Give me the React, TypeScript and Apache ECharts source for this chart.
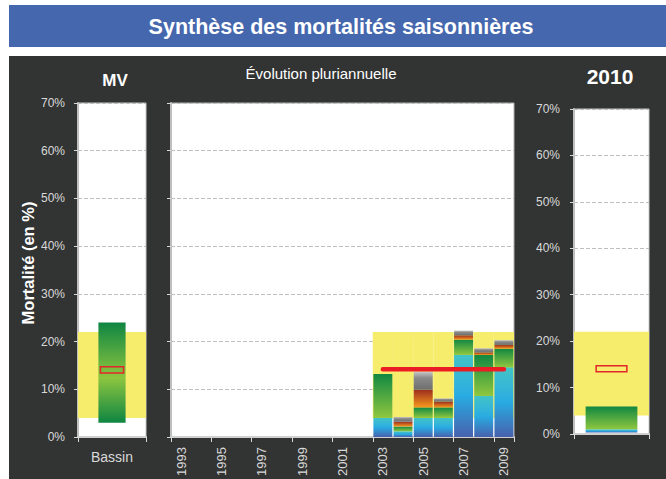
import React, { useEffect, useRef } from "react";
import * as echarts from "echarts";

// ---------- data ----------
const years = ["1993","1994","1995","1996","1997","1998","1999","2000","2001","2002","2003","2004","2005","2006","2007","2008","2009"];
const blueSeg   = [null,null,null,null,null,null,null,null,null,null, 4.0, 1.2, 4.0, 4.0, 17.2, 8.6, 14.6];
const greenSeg  = [null,null,null,null,null,null,null,null,null,null, 9.2, 1.0, 2.2, 2.2, 3.2, 8.6, 3.9];
const orangeSeg = [null,null,null,null,null,null,null,null,null,null, 0,   1.0, 3.7, 1.2, 0.9, 0.5, 0.8];
const graySeg   = [null,null,null,null,null,null,null,null,null,null, 0,   1.0, 3.8, 0.7, 1.0, 0.9, 1.0];
const meanLine  = [null,null,null,null,null,null,null,null,null,null, 14.2,14.2,14.2,14.2,14.2,14.2,14.2];
const bandYears = ["2003","2004","2005","2006","2007","2008","2009"];
const BAND_LOW = 4;
const BAND_HIGH = 22;

const mvCategories = ["Bassin"];
const mvBase = [3];
const mvRange = [21];
const mvMarker = [13.4, 14.7];

const y2010Categories = ["2010"];
const y2010Base = [0.3];
const y2010Blue = [0.7];
const y2010Green = [4.9];
const y2010Marker = [13.4, 14.7];

const yTicks = { min: 0, max: 70, interval: 10 };

// ---------- styles ----------
const FONT = "'Liberation Sans', Arial, sans-serif";
const YELLOW = "#F6ED6C";
const LABEL = "#D9D9D9";
const lg = (stops: [number, string][]) =>
  new echarts.graphic.LinearGradient(0, 0, 0, 1, stops.map(([offset, color]) => ({ offset, color })));
const blueGrad = () => lg([[0, "#42C3C6"], [0.3, "#35B6D8"], [0.5, "#29ABE2"], [1, "#4761AD"]]);
const greenGrad = () => lg([[0, "#118842"], [1, "#8FC73F"]]);
const orangeGrad = () => lg([[0, "#9C2F1F"], [1, "#F7961C"]]);
const grayGrad = () => lg([[0, "#C9C9C9"], [0.35, "#8A8A8A"], [1, "#6E6E6E"]]);
const mvGrad = () => lg([[0, "#0E8542"], [0.55, "#8DC63F"], [1, "#0E8542"]]);

function yAxisCfg(gridIndex: number, showLabel: boolean, margin: number) {
  return {
    type: "value",
    gridIndex,
    ...yTicks,
    axisLabel: { show: showLabel, color: LABEL, fontSize: 12, fontFamily: FONT, margin, formatter: "{value}%" },
    axisLine: { show: true, lineStyle: { color: "#BFBFBF", width: 2 } },
    axisTick: { show: true, length: 4, lineStyle: { color: LABEL } },
    splitLine: { show: true, lineStyle: { color: "#BFBFBF", type: "dashed", width: 1 } },
  };
}

function xAxisCfg(gridIndex: number, data: string[], label: any) {
  return {
    type: "category",
    gridIndex,
    data,
    axisLabel: label,
    axisLine: { show: true, lineStyle: { color: "#D0D0D0", width: 2 } },
    axisTick: { show: true, length: 5, lineStyle: { color: LABEL } },
    splitLine: { show: false },
  };
}

const fullBand = (params: any, api: any) => {
  const cs = params.coordSys;
  const top = api.coord([0, api.value(2)]);
  const bot = api.coord([0, api.value(1)]);
  return { type: "rect", shape: { x: cs.x, y: top[1], width: cs.width, height: bot[1] - top[1] }, style: { fill: YELLOW } };
};
const catBand = (params: any, api: any) => {
  const top = api.coord([api.value(0), api.value(2)]);
  const bot = api.coord([api.value(0), api.value(1)]);
  const w = api.size([1, 0])[0];
  return { type: "rect", shape: { x: top[0] - w / 2, y: top[1], width: w, height: bot[1] - top[1] }, style: { fill: YELLOW } };
};
const markerBox = (frac: number) => (params: any, api: any) => {
  const top = api.coord([api.value(0), api.value(2)]);
  const bot = api.coord([api.value(0), api.value(1)]);
  const w = api.size([1, 0])[0] * frac;
  return {
    type: "rect",
    shape: { x: top[0] - w / 2, y: top[1], width: w, height: bot[1] - top[1] },
    style: { fill: "none", stroke: "#E3262A", lineWidth: 1.5 },
  };
};

export default function App() {
  const ref = useRef<HTMLDivElement>(null);
  useEffect(() => {
    if (!ref.current) return;
    const chart = echarts.init(ref.current, undefined, { renderer: "svg" });
    const option: any = {
      animation: false,
      textStyle: { fontFamily: FONT },
      graphic: [
        { type: "rect", z: -100, shape: { x: 9, y: 5, width: 657, height: 42 }, style: { fill: "#4567AE" } },
        { type: "rect", z: -100, shape: { x: 9, y: 56, width: 657, height: 423 }, style: { fill: "#323433" } },
        { type: "text", x: 341, y: 27, style: { text: "Synthèse des mortalités saisonnières", fill: "#fff", font: `bold 21.5px ${FONT}`, align: "center", verticalAlign: "middle" } },
        { type: "text", x: 115, y: 80, style: { text: "MV", fill: "#fff", font: `bold 17px ${FONT}`, align: "center", verticalAlign: "middle" } },
        { type: "text", x: 321, y: 73, style: { text: "Évolution pluriannuelle", fill: "#fff", font: `15px ${FONT}`, align: "center", verticalAlign: "middle" } },
        { type: "text", x: 610, y: 76, style: { text: "2010", fill: "#fff", font: `bold 21px ${FONT}`, align: "center", verticalAlign: "middle" } },
        { type: "text", x: 28, y: 263, rotation: Math.PI / 2, style: { text: "Mortalité (en %)", fill: "#fff", font: `bold 16.5px ${FONT}`, align: "center", verticalAlign: "middle" } },
      ],
      grid: [
        { left: 78, right: 520, top: 103, bottom: 42, show: true, backgroundColor: "#fff", borderColor: "#C8C8C8", borderWidth: 1 },
        { left: 171, right: 152, top: 103, bottom: 42, show: true, backgroundColor: "#fff", borderColor: "#B0B0B0", borderWidth: 1 },
        { left: 574, right: 17, top: 109, bottom: 45, show: true, backgroundColor: "#fff", borderColor: "#C8C8C8", borderWidth: 1 },
      ],
      xAxis: [
        xAxisCfg(0, mvCategories, { show: true, color: LABEL, fontSize: 14, fontFamily: FONT, margin: 13 }),
        xAxisCfg(1, years, { show: true, color: LABEL, fontSize: 13, fontFamily: FONT, rotate: 90, interval: 1, margin: 10 }),
        xAxisCfg(2, y2010Categories, { show: false }),
      ],
      yAxis: [yAxisCfg(0, true, 13), yAxisCfg(1, false, 8), yAxisCfg(2, true, 14)],
      series: [
        // MV panel
        { type: "custom", xAxisIndex: 0, yAxisIndex: 0, renderItem: fullBand, encode: { x: 0, y: [1, 2] }, data: [[mvCategories[0], BAND_LOW, BAND_HIGH]], silent: true },
        { type: "bar", xAxisIndex: 0, yAxisIndex: 0, stack: "mv", barWidth: "40%", data: mvBase, itemStyle: { color: "transparent" } },
        { type: "bar", xAxisIndex: 0, yAxisIndex: 0, stack: "mv", barWidth: "40%", data: mvRange, itemStyle: { color: mvGrad() } },
        { type: "custom", xAxisIndex: 0, yAxisIndex: 0, renderItem: markerBox(0.34), encode: { x: 0, y: [1, 2] }, data: [[mvCategories[0], mvMarker[0], mvMarker[1]]], z: 5 },
        // multi-year panel
        { type: "custom", xAxisIndex: 1, yAxisIndex: 1, renderItem: catBand, encode: { x: 0, y: [1, 2] }, data: bandYears.map((y) => [y, BAND_LOW, BAND_HIGH]), silent: true },
        { type: "bar", xAxisIndex: 1, yAxisIndex: 1, stack: "evo", barCategoryGap: "6%", data: blueSeg, itemStyle: { color: blueGrad() } },
        { type: "bar", xAxisIndex: 1, yAxisIndex: 1, stack: "evo", data: greenSeg, itemStyle: { color: greenGrad() } },
        { type: "bar", xAxisIndex: 1, yAxisIndex: 1, stack: "evo", data: orangeSeg, itemStyle: { color: orangeGrad() } },
        { type: "bar", xAxisIndex: 1, yAxisIndex: 1, stack: "evo", data: graySeg, itemStyle: { color: grayGrad() } },
        { type: "line", xAxisIndex: 1, yAxisIndex: 1, data: meanLine, symbol: "none", z: 5, lineStyle: { color: "#EC1C24", width: 4.5, cap: "round" } },
        // 2010 panel
        { type: "custom", xAxisIndex: 2, yAxisIndex: 2, renderItem: fullBand, encode: { x: 0, y: [1, 2] }, data: [[y2010Categories[0], BAND_LOW, BAND_HIGH]], silent: true },
        { type: "bar", xAxisIndex: 2, yAxisIndex: 2, stack: "y10", barWidth: "69%", data: y2010Base, itemStyle: { color: "transparent" } },
        { type: "bar", xAxisIndex: 2, yAxisIndex: 2, stack: "y10", barWidth: "69%", data: y2010Blue, itemStyle: { color: blueGrad() } },
        { type: "bar", xAxisIndex: 2, yAxisIndex: 2, stack: "y10", barWidth: "69%", data: y2010Green, itemStyle: { color: greenGrad() } },
        { type: "custom", xAxisIndex: 2, yAxisIndex: 2, renderItem: markerBox(0.41), encode: { x: 0, y: [1, 2] }, data: [[y2010Categories[0], y2010Marker[0], y2010Marker[1]]], z: 5 },
      ],
    };
    chart.setOption(option);
    return () => chart.dispose();
  }, []);
  return (
    <div style={{ position: "absolute", left: 0, top: 0, width: 666, height: 479, background: "#fff" }}>
      <div ref={ref} style={{ width: 666, height: 479 }} />
    </div>
  );
}
